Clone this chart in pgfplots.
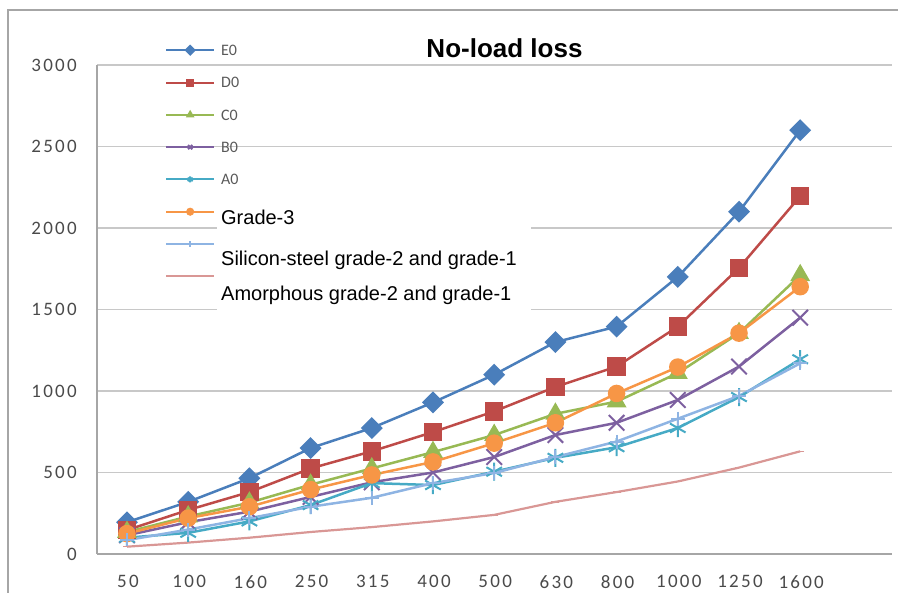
\documentclass[border=0pt]{standalone}
\usepackage{fontspec}
\setmainfont{Carlito}
\newfontfamily\arial{Liberation Sans}
\newfontfamily\tickfont[LetterSpace=12]{Carlito}
\usepackage{pgfplots}
\pgfplotsset{compat=1.18}

\definecolor{cE}{HTML}{4A7EBB}
\definecolor{cD}{HTML}{BE4B48}
\definecolor{cC}{HTML}{98B954}
\definecolor{cB}{HTML}{7D60A0}
\definecolor{cA}{HTML}{46AAC5}
\definecolor{cG}{HTML}{F79646}
\definecolor{cS}{HTML}{8EB4E3}
\definecolor{cM}{HTML}{D99795}
\definecolor{gridc}{HTML}{C8C8C8}
\definecolor{axc}{HTML}{A6A6A6}
\definecolor{tickc}{HTML}{4A4A4A}

% x index 0..11 = 50,100,160,250,315,400,500,630,800,1000,1250,1600
\pgfplotstableread{
x E0 D0 C0 G3 B0 A0 SI AM
0 195 147 135 125 115 100 85 45
1 320 270 230 220 195 130 150 70
2 465 380 315 290 260 200 220 100
3 650 525 425 395 350 300 290 135
4 773 630 525 485 440 435 345 165
5 930 748 625 565 500 423 435 200
6 1100 875 730 680 595 505 497 240
7 1300 1025 860 805 730 590 595 320
8 1395 1150 935 985 805 655 690 380
9 1700 1395 1110 1147 945 773 830 445
10 2100 1755 1355 1355 1150 963 970 530
11 2600 2195 1710 1640 1450 1195 1170 630
}\loss

\begin{document}
\begin{tikzpicture}
\useasboundingbox (0,0) rectangle (898bp,-593bp);
\draw[axc, line width=1.5bp] (8bp,-593bp) -- (8bp,-10bp) -- (898bp,-10bp);
\begin{axis}[
  at={(97bp,-554bp)}, anchor=south west,
  scale only axis, width=795bp, height=489bp,
  xmin=-0.49, xmax=12.5, ymin=0, ymax=3000,
  xtick={0,...,11},
  xticklabels={50,100,160,250,315,400,500,630,800,1000,1250,1600},
  ytick={0,500,1000,1500,2000,2500,3000},
  yticklabels={0,500,1000,1500,2000,2500,3000},
  axis x line*=bottom, axis y line*=left,
  axis line style={-, axc, line width=1.5bp},
  major tick style={draw=none},
  ymajorgrids, grid style={gridc, line width=1.5bp},
  xticklabel style={anchor=north, inner sep=0pt, yshift=-21bp, xshift=1bp, text=tickc,
    font=\tickfont\fontsize{19bp}{19bp}\selectfont},
  yticklabel style={anchor=east, inner sep=0pt, xshift=-20bp, text=tickc,
    font=\tickfont\fontsize{19bp}{19bp}\selectfont},
  legend image code/.code={\draw[mark repeat=2,mark phase=2,#1,line width=2bp,mark size=3bp]
    plot coordinates {(0bp,0bp)(24bp,0bp)(48bp,0bp)};},
  legend style={at={(axis description cs:0.0855,1.0637)}, anchor=north west,
    draw=none, fill=none, inner sep=0pt, row sep=0pt, column sep=6bp,
    cells={anchor=west},
    nodes={inner sep=0pt, text height=21.55bp, text depth=10.75bp},
    font=\fontsize{16bp}{16bp}\selectfont, text=black!65},
]
\fill[white] (axis cs:1.47,1480) rectangle (axis cs:6.6,2175);
\addplot[cE, line width=2.5bp, mark=square*, mark size=6.5bp,
  mark options={rotate=45, fill=cE, draw=cE, solid}] table[x=x,y=E0] {\loss};
\addlegendentry{E0}
\addplot[cD, line width=2.5bp, mark=square*, mark size=8bp,
  mark options={fill=cD, draw=cD, solid}] table[x=x,y=D0] {\loss};
\addlegendentry{D0}
\addplot[cC, line width=2.5bp, mark=triangle*, mark size=9bp,
  mark options={fill=cC, draw=cC, solid}] table[x=x,y=C0] {\loss};
\addlegendentry{C0}
\addplot[cB, line width=2.5bp, mark=x, mark size=11bp,
  mark options={draw=cB, solid, line width=2bp}] table[x=x,y=B0] {\loss};
\addlegendentry{B0}
\addplot[cA, line width=2.5bp, mark=asterisk, mark size=9bp,
  mark options={draw=cA, solid, line width=2bp}] table[x=x,y=A0] {\loss};
\addlegendentry{A0}
\addplot[cG, line width=2.5bp, mark=*, mark size=7.5bp,
  mark options={fill=cG, draw=cG, solid}] table[x=x,y=G3] {\loss};
\addlegendentry{\raisebox{-7.8bp}{\arial\fontsize{20bp}{20bp}\selectfont\color{black}Grade-3}}
\addplot[cS, line width=2.5bp, mark=+, mark size=7bp,
  mark options={draw=cS, solid, line width=2bp}] table[x=x,y=SI] {\loss};
\addlegendentry{\raisebox{-15.8bp}{\arial\fontsize{20bp}{20bp}\selectfont\color{black}Silicon-steel grade-2 and grade-1}}
\addplot[cM, line width=2.2bp, mark=-, mark size=4bp,
  mark options={draw=cM, solid, line width=1.5bp}] table[x=x,y=AM] {\loss};
\addlegendentry{\raisebox{-18.8bp}{\arial\fontsize{20bp}{20bp}\selectfont\color{black}Amorphous grade-2 and grade-1}}
\end{axis}
\fill[white] (385bp,-30bp) rectangle (623bp,-63bp);
\node[anchor=base, inner sep=0pt, font=\arial\bfseries\fontsize{26bp}{26bp}\selectfont]
  at (504.5bp,-57bp) {No-load loss};
\end{tikzpicture}
\end{document}
